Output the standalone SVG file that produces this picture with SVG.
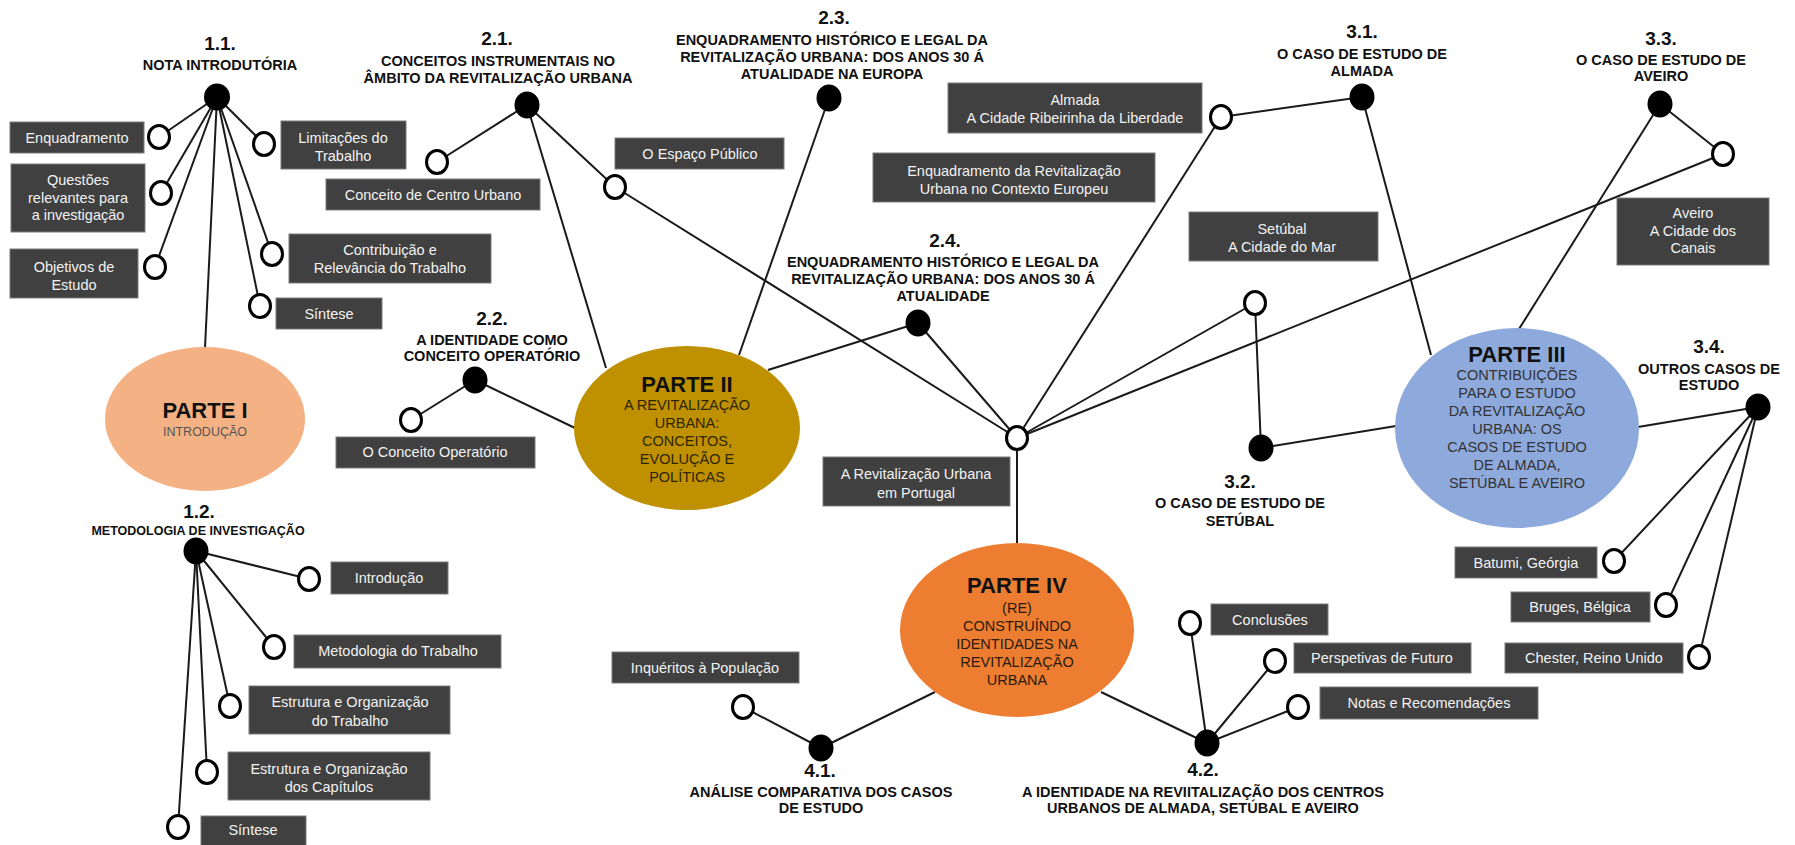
<svg xmlns="http://www.w3.org/2000/svg" width="1795" height="845" viewBox="0 0 1795 845">
<style>
.ln{stroke:#1a1a1a;stroke-width:2;fill:none}
.oc{fill:#fff;stroke:#000;stroke-width:3}
.dot{fill:#000}
.bx{fill:#404040;stroke:#7a7a7a;stroke-width:1}
.bt{font-family:"Liberation Sans",Arial,sans-serif;font-size:14.5px;fill:#f2f2f2;text-anchor:middle}
.hn{font-family:"Liberation Sans",Arial,sans-serif;font-weight:bold;font-size:19px;fill:#111;text-anchor:middle}
.ht{font-family:"Liberation Sans",Arial,sans-serif;font-weight:bold;font-size:14.5px;fill:#111;text-anchor:middle}
.pt{font-family:"Liberation Sans",Arial,sans-serif;font-weight:bold;font-size:22px;fill:#111;text-anchor:middle}
.ps{font-family:"Liberation Sans",Arial,sans-serif;font-size:14.5px;fill:#333;text-anchor:middle}
</style>
<rect width="1795" height="845" fill="#fff"/>
<g id="connectors">
<line class="ln" x1="217" y1="97" x2="159" y2="137"/>
<line class="ln" x1="217" y1="97" x2="161" y2="193"/>
<line class="ln" x1="217" y1="97" x2="155" y2="267"/>
<line class="ln" x1="217" y1="97" x2="264" y2="144"/>
<line class="ln" x1="217" y1="97" x2="272" y2="254"/>
<line class="ln" x1="217" y1="97" x2="260" y2="306"/>
<line class="ln" x1="217" y1="97" x2="205" y2="348"/>
<line class="ln" x1="527" y1="105" x2="437" y2="162"/>
<line class="ln" x1="527" y1="105" x2="615" y2="187"/>
<line class="ln" x1="527" y1="105" x2="606" y2="368"/>
<line class="ln" x1="615" y1="187" x2="1017" y2="438"/>
<line class="ln" x1="829" y1="98" x2="739" y2="355"/>
<line class="ln" x1="768" y1="370" x2="918" y2="323"/>
<line class="ln" x1="918" y1="323" x2="1017" y2="438"/>
<line class="ln" x1="475" y1="380" x2="411" y2="420"/>
<line class="ln" x1="475" y1="380" x2="575" y2="428"/>
<line class="ln" x1="1017" y1="438" x2="1221" y2="117"/>
<line class="ln" x1="1221" y1="117" x2="1362" y2="97"/>
<line class="ln" x1="1362" y1="97" x2="1431" y2="355"/>
<line class="ln" x1="1017" y1="438" x2="1255" y2="303"/>
<line class="ln" x1="1255" y1="303" x2="1261" y2="448"/>
<line class="ln" x1="1261" y1="448" x2="1396" y2="426"/>
<line class="ln" x1="1017" y1="438" x2="1723" y2="154"/>
<line class="ln" x1="1723" y1="154" x2="1660" y2="104"/>
<line class="ln" x1="1660" y1="104" x2="1519" y2="329"/>
<line class="ln" x1="1638" y1="427" x2="1758" y2="407"/>
<line class="ln" x1="1758" y1="407" x2="1614" y2="561"/>
<line class="ln" x1="1758" y1="407" x2="1666" y2="605"/>
<line class="ln" x1="1758" y1="407" x2="1699" y2="657"/>
<line class="ln" x1="1017" y1="438" x2="1017" y2="544"/>
<line class="ln" x1="935" y1="692" x2="821" y2="748"/>
<line class="ln" x1="821" y1="748" x2="743" y2="707"/>
<line class="ln" x1="1101" y1="692" x2="1207" y2="743"/>
<line class="ln" x1="1207" y1="743" x2="1190" y2="623"/>
<line class="ln" x1="1207" y1="743" x2="1275" y2="661"/>
<line class="ln" x1="1207" y1="743" x2="1298" y2="707"/>
<line class="ln" x1="196" y1="551" x2="309" y2="579"/>
<line class="ln" x1="196" y1="551" x2="274" y2="647"/>
<line class="ln" x1="196" y1="551" x2="230" y2="706"/>
<line class="ln" x1="196" y1="551" x2="207" y2="772"/>
<line class="ln" x1="196" y1="551" x2="178" y2="827"/>
</g>

<g id="parte-1">
<ellipse cx="205" cy="419" rx="100" ry="72" fill="#F4B183"/>
<text class="pt" x="205" y="418">PARTE I</text>
<text class="ps" x="205" y="436" style="font-size:12.5px;fill:#555">INTRODUÇÃO</text>
</g>
<g id="parte-2">
<ellipse cx="687" cy="428" rx="113" ry="82" fill="#BF9000"/>
<text class="pt" x="687" y="392">PARTE II</text>
<text class="ps" x="687" y="410" fill="#2e2600" style="fill:#2e2600">A REVITALIZAÇÃO</text>
<text class="ps" x="687" y="428" style="fill:#2e2600">URBANA:</text>
<text class="ps" x="687" y="446" style="fill:#2e2600">CONCEITOS,</text>
<text class="ps" x="687" y="464" style="fill:#2e2600">EVOLUÇÃO E</text>
<text class="ps" x="687" y="482" style="fill:#2e2600">POLÍTICAS</text>
</g>
<g id="parte-3">
<ellipse cx="1517" cy="428" rx="122" ry="100" fill="#8EA9DB"/>
<text class="pt" x="1517" y="362">PARTE III</text>
<text class="ps" x="1517" y="380">CONTRIBUIÇÕES</text>
<text class="ps" x="1517" y="398">PARA O ESTUDO</text>
<text class="ps" x="1517" y="416">DA REVITALIZAÇÃO</text>
<text class="ps" x="1517" y="434">URBANA: OS</text>
<text class="ps" x="1517" y="452">CASOS DE ESTUDO</text>
<text class="ps" x="1517" y="470">DE ALMADA,</text>
<text class="ps" x="1517" y="488">SETÚBAL E AVEIRO</text>
</g>
<g id="parte-4">
<ellipse cx="1017" cy="630" rx="117" ry="87" fill="#ED7D31"/>
<text class="pt" x="1017" y="593">PARTE IV</text>
<text class="ps" x="1017" y="613" style="fill:#2b1a0a">(RE)</text>
<text class="ps" x="1017" y="631" style="fill:#2b1a0a">CONSTRUÍNDO</text>
<text class="ps" x="1017" y="649" style="fill:#2b1a0a">IDENTIDADES NA</text>
<text class="ps" x="1017" y="667" style="fill:#2b1a0a">REVITALIZAÇÃO</text>
<text class="ps" x="1017" y="685" style="fill:#2b1a0a">URBANA</text>
</g>

<g id="hub"><ellipse class="oc" cx="1017" cy="438" rx="10.5" ry="11.5"/></g>

<g id="h-1-1">
<text class="hn" x="220" y="50">1.1.</text>
<text class="ht" x="220" y="70">NOTA INTRODUTÓRIA</text>
<ellipse class="dot" cx="217" cy="97" rx="13" ry="13.5"/>
</g>
<g id="h-1-2">
<text class="hn" x="199" y="518">1.2.</text>
<text class="ht" x="198" y="535" style="font-size:12.5px">METODOLOGIA DE INVESTIGAÇÃO</text>
<ellipse class="dot" cx="196" cy="551" rx="12.5" ry="13.5"/>
</g>
<g id="h-2-1">
<text class="hn" x="497" y="45">2.1.</text>
<text class="ht" x="498" y="66">CONCEITOS INSTRUMENTAIS NO</text>
<text class="ht" x="498" y="83">ÂMBITO DA REVITALIZAÇÃO URBANA</text>
<ellipse class="dot" cx="527" cy="105" rx="12.5" ry="13.5"/>
</g>
<g id="h-2-2">
<text class="hn" x="492" y="325">2.2.</text>
<text class="ht" x="492" y="345">A IDENTIDADE COMO</text>
<text class="ht" x="492" y="361">CONCEITO OPERATÓRIO</text>
<ellipse class="dot" cx="475" cy="380" rx="12.5" ry="13.5"/>
</g>
<g id="h-2-3">
<text class="hn" x="834" y="24">2.3.</text>
<text class="ht" x="832" y="45">ENQUADRAMENTO HISTÓRICO E LEGAL DA</text>
<text class="ht" x="832" y="62">REVITALIZAÇÃO URBANA: DOS ANOS 30 Á</text>
<text class="ht" x="832" y="79">ATUALIDADE NA EUROPA</text>
<ellipse class="dot" cx="829" cy="98" rx="12.5" ry="13.5"/>
</g>
<g id="h-2-4">
<text class="hn" x="945" y="247">2.4.</text>
<text class="ht" x="943" y="267">ENQUADRAMENTO HISTÓRICO E LEGAL DA</text>
<text class="ht" x="943" y="284">REVITALIZAÇÃO URBANA: DOS ANOS 30 Á</text>
<text class="ht" x="943" y="301">ATUALIDADE</text>
<ellipse class="dot" cx="918" cy="323" rx="12.5" ry="13.5"/>
</g>
<g id="h-3-1">
<text class="hn" x="1362" y="38">3.1.</text>
<text class="ht" x="1362" y="59">O CASO DE ESTUDO DE</text>
<text class="ht" x="1362" y="76">ALMADA</text>
<ellipse class="dot" cx="1362" cy="97" rx="12.5" ry="13.5"/>
</g>
<g id="h-3-2">
<ellipse class="dot" cx="1261" cy="448" rx="12.5" ry="13.5"/>
<text class="hn" x="1240" y="488">3.2.</text>
<text class="ht" x="1240" y="508">O CASO DE ESTUDO DE</text>
<text class="ht" x="1240" y="526">SETÚBAL</text>
</g>
<g id="h-3-3">
<text class="hn" x="1661" y="45">3.3.</text>
<text class="ht" x="1661" y="65">O CASO DE ESTUDO DE</text>
<text class="ht" x="1661" y="81">AVEIRO</text>
<ellipse class="dot" cx="1660" cy="104" rx="12.5" ry="13.5"/>
</g>
<g id="h-3-4">
<text class="hn" x="1709" y="353">3.4.</text>
<text class="ht" x="1709" y="374">OUTROS CASOS DE</text>
<text class="ht" x="1709" y="390">ESTUDO</text>
<ellipse class="dot" cx="1758" cy="407" rx="12.5" ry="13.5"/>
</g>
<g id="h-4-1">
<ellipse class="dot" cx="821" cy="748" rx="12.5" ry="13.5"/>
<text class="hn" x="820" y="777">4.1.</text>
<text class="ht" x="821" y="797">ANÁLISE COMPARATIVA DOS CASOS</text>
<text class="ht" x="821" y="813">DE ESTUDO</text>
</g>
<g id="h-4-2">
<ellipse class="dot" cx="1207" cy="743" rx="12.5" ry="13.5"/>
<text class="hn" x="1203" y="776">4.2.</text>
<text class="ht" x="1203" y="797">A IDENTIDADE NA REVIITALIZAÇÃO DOS CENTROS</text>
<text class="ht" x="1203" y="813">URBANOS DE ALMADA, SETÚBAL E AVEIRO</text>
</g>

<g id="b-enquadramento"><rect class="bx" x="10" y="122" width="134" height="31"/><text class="bt" x="77" y="143">Enquadramento</text><ellipse class="oc" cx="159" cy="137" rx="10.5" ry="11.5"/></g>
<g id="b-questoes"><rect class="bx" x="11" y="164" width="134" height="68"/><text class="bt" x="78" y="185">Questões</text><text class="bt" x="78" y="203">relevantes para</text><text class="bt" x="78" y="220">a investigação</text><ellipse class="oc" cx="161" cy="193" rx="10.5" ry="11.5"/></g>
<g id="b-objetivos"><rect class="bx" x="10" y="249" width="128" height="49"/><text class="bt" x="74" y="272">Objetivos de</text><text class="bt" x="74" y="290">Estudo</text><ellipse class="oc" cx="155" cy="267" rx="10.5" ry="11.5"/></g>
<g id="b-limitacoes"><rect class="bx" x="281" y="121" width="125" height="48"/><text class="bt" x="343" y="143">Limitações do</text><text class="bt" x="343" y="161">Trabalho</text><ellipse class="oc" cx="264" cy="144" rx="10.5" ry="11.5"/></g>
<g id="b-contribuicao"><rect class="bx" x="289" y="234" width="202" height="49"/><text class="bt" x="390" y="255">Contribuição e</text><text class="bt" x="390" y="273">Relevância do Trabalho</text><ellipse class="oc" cx="272" cy="254" rx="10.5" ry="11.5"/></g>
<g id="b-sintese1"><rect class="bx" x="276" y="298" width="106" height="31"/><text class="bt" x="329" y="319">Síntese</text><ellipse class="oc" cx="260" cy="306" rx="10.5" ry="11.5"/></g>
<g id="b-centro"><rect class="bx" x="326" y="179" width="214" height="31"/><text class="bt" x="433" y="200">Conceito de Centro Urbano</text><ellipse class="oc" cx="437" cy="162" rx="10.5" ry="11.5"/></g>
<g id="b-espaco"><rect class="bx" x="615" y="138" width="169" height="31"/><text class="bt" x="700" y="159">O Espaço Público</text><ellipse class="oc" cx="615" cy="187" rx="10.5" ry="11.5"/></g>
<g id="b-operatorio"><rect class="bx" x="336" y="437" width="199" height="31"/><text class="bt" x="435" y="457">O Conceito Operatório</text><ellipse class="oc" cx="411" cy="420" rx="10.5" ry="11.5"/></g>
<g id="b-europeu"><rect class="bx" x="873" y="153" width="282" height="49"/><text class="bt" x="1014" y="176">Enquadramento da Revitalização</text><text class="bt" x="1014" y="194">Urbana no Contexto Europeu</text></g>
<g id="b-almada"><rect class="bx" x="948" y="83" width="254" height="50"/><text class="bt" x="1075" y="105">Almada</text><text class="bt" x="1075" y="123">A Cidade Ribeirinha da Liberdade</text><ellipse class="oc" cx="1221" cy="117" rx="10.5" ry="11.5"/></g>
<g id="b-setubal"><rect class="bx" x="1189" y="212" width="189" height="49"/><text class="bt" x="1282" y="234">Setúbal</text><text class="bt" x="1282" y="252">A Cidade do Mar</text><ellipse class="oc" cx="1255" cy="303" rx="10.5" ry="11.5"/></g>
<g id="b-aveiro"><rect class="bx" x="1617" y="198" width="152" height="67"/><text class="bt" x="1693" y="218">Aveiro</text><text class="bt" x="1693" y="236">A Cidade dos</text><text class="bt" x="1693" y="253">Canais</text><ellipse class="oc" cx="1723" cy="154" rx="10.5" ry="11.5"/></g>
<g id="b-portugal"><rect class="bx" x="823" y="457" width="187" height="49"/><text class="bt" x="916" y="479">A Revitalização Urbana</text><text class="bt" x="916" y="498">em Portugal</text></g>
<g id="b-batumi"><rect class="bx" x="1455" y="547" width="142" height="31"/><text class="bt" x="1526" y="568">Batumi, Geórgia</text><ellipse class="oc" cx="1614" cy="561" rx="10.5" ry="11.5"/></g>
<g id="b-bruges"><rect class="bx" x="1511" y="592" width="139" height="30"/><text class="bt" x="1580" y="612">Bruges, Bélgica</text><ellipse class="oc" cx="1666" cy="605" rx="10.5" ry="11.5"/></g>
<g id="b-chester"><rect class="bx" x="1505" y="643" width="178" height="30"/><text class="bt" x="1594" y="663">Chester, Reino Unido</text><ellipse class="oc" cx="1699" cy="657" rx="10.5" ry="11.5"/></g>
<g id="b-conclusoes"><rect class="bx" x="1211" y="604" width="117" height="31"/><text class="bt" x="1270" y="625">Conclusões</text><ellipse class="oc" cx="1190" cy="623" rx="10.5" ry="11.5"/></g>
<g id="b-perspetivas"><rect class="bx" x="1294" y="643" width="177" height="30"/><text class="bt" x="1382" y="663">Perspetivas de Futuro</text><ellipse class="oc" cx="1275" cy="661" rx="10.5" ry="11.5"/></g>
<g id="b-notas"><rect class="bx" x="1320" y="687" width="218" height="32"/><text class="bt" x="1429" y="708">Notas e Recomendações</text><ellipse class="oc" cx="1298" cy="707" rx="10.5" ry="11.5"/></g>
<g id="b-inqueritos"><rect class="bx" x="612" y="652" width="187" height="31"/><text class="bt" x="705" y="673">Inquéritos à População</text><ellipse class="oc" cx="743" cy="707" rx="10.5" ry="11.5"/></g>
<g id="b-introducao"><rect class="bx" x="331" y="562" width="117" height="32"/><text class="bt" x="389" y="583">Introdução</text><ellipse class="oc" cx="309" cy="579" rx="10.5" ry="11.5"/></g>
<g id="b-metodologia"><rect class="bx" x="294" y="635" width="207" height="33"/><text class="bt" x="398" y="656">Metodologia do Trabalho</text><ellipse class="oc" cx="274" cy="647" rx="10.5" ry="11.5"/></g>
<g id="b-estrutura-trab"><rect class="bx" x="249" y="686" width="201" height="48"/><text class="bt" x="350" y="707">Estrutura e Organização</text><text class="bt" x="350" y="726">do Trabalho</text><ellipse class="oc" cx="230" cy="706" rx="10.5" ry="11.5"/></g>
<g id="b-estrutura-cap"><rect class="bx" x="228" y="752" width="202" height="48"/><text class="bt" x="329" y="774">Estrutura e Organização</text><text class="bt" x="329" y="792">dos Capítulos</text><ellipse class="oc" cx="207" cy="772" rx="10.5" ry="11.5"/></g>
<g id="b-sintese2"><rect class="bx" x="201" y="816" width="105" height="35"/><text class="bt" x="253" y="835">Síntese</text><ellipse class="oc" cx="178" cy="827" rx="10.5" ry="11.5"/></g>
</svg>
